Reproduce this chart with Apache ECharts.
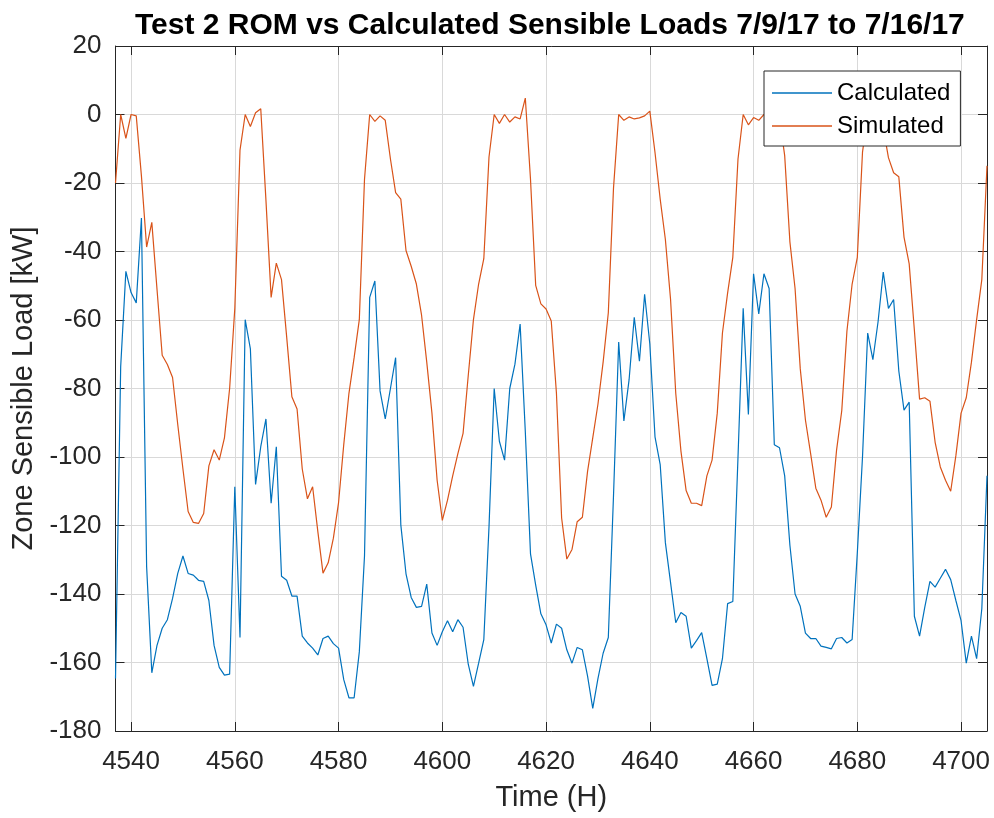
<!DOCTYPE html>
<html><head><meta charset="utf-8">
<script src="https://cdn.jsdelivr.net/npm/echarts@6/dist/echarts.min.js"></script>
<style>html,body{margin:0;padding:0;background:#fff}#c{width:994px;height:818px}</style>
</head><body><div id="c"></div>
<script>
// Hour index of the first sample (one sample per hour)
const startHour = 4537;
const seriesNames = ['Calculated', 'Simulated'];
const titleText = 'Test 2 ROM vs Calculated Sensible Loads 7/9/17 to 7/16/17';
const xAxisName = 'Time (H)';
const yAxisName = 'Zone Sensible Load [kW]';
const xRange = [4537, 4705];
const yRange = [-180, 20];
const yStep = 20;

const calculated = [
  -164.7, -73.6, -45.8, -52, -55, -30.2, -132, -163, -155, -150,
  -147.5, -141.3, -134, -128.9, -134, -134.5, -136, -136.3, -141.9, -155,
  -161.4, -163.7, -163.4, -108.7, -152.7, -59.9, -68.4, -108, -97, -88.9,
  -113.5, -97, -134.8, -136, -140.6, -140.6, -152.3, -154.3, -155.8, -157.8,
  -153, -152.3, -154.5, -155.8, -165, -170.3, -170.3, -156.9, -128.9, -53.4,
  -48.6, -80.7, -88.9, -80, -71, -119.8, -134.1, -141, -143.9, -143.6,
  -137.1, -151.4, -155, -151, -147.8, -151, -147.5, -149.7, -160.5, -167,
  -160.2, -153.3, -120.4, -80, -95.4, -100.9, -80, -72.9, -61.2, -92.6,
  -128.3, -137.4, -145.8, -149, -154.3, -148.8, -150, -156.3, -160.2, -155.6,
  -156.3, -164, -173.4, -164.7, -157.3, -152.7, -111.3, -66.4, -89.5, -77.5,
  -59.2, -72, -52.5, -67, -94.1, -102.2, -125, -136.7, -148.4, -145.4,
  -146.5, -155.8, -153.6, -151.3, -158.9, -166.7, -166.3, -158.9, -142.8, -142.2,
  -100, -56.6, -87.6, -46.5, -58.2, -46.5, -50.8, -96.4, -97.3, -105.5,
  -125.7, -140, -143.6, -151.4, -153, -153, -155.2, -155.6, -156, -153,
  -152.7, -154.3, -153.3, -128, -100, -63.8, -71.6, -60.5, -46, -56.6,
  -54, -74.9, -86.3, -84, -146.5, -152.3, -143.9, -136.3, -138, -135.4,
  -132.8, -135.8, -141.9, -147.8, -160.2, -152.3, -158.9, -144.3, -105.5
];

const simulated = [
  -20, 0, -7, 0, -0.4, -18, -38.7, -31.5, -51, -70.3,
  -73, -76.8, -90.5, -103.5, -115.9, -119.1, -119.4, -116.5, -102.6, -97.9,
  -100.9, -94.4, -80, -56.6, -10.4, 0, -3.5, 0.5, 1.7, -25,
  -53.4, -43.4, -48.2, -65, -82.4, -86, -103.5, -112.2, -108.7, -121.7,
  -133.9, -130.9, -123.7, -113.3, -96.4, -81.4, -71, -59.9, -18.9, 0,
  -2, -0.4, -1.7, -13, -22.8, -24.7, -39.7, -44.3, -49.5, -58.6,
  -72.3, -87.2, -106.8, -118.5, -112.6, -105.5, -99, -93.1, -76.2, -59.9,
  -49.5, -42.1, -12.4, 0, -2.6, 0, -2.2, -0.7, -1.3, 4.8,
  -18.9, -49.9, -55.3, -56.8, -60.3, -81.4, -117.8, -129.8, -127, -118.9,
  -117.6, -104.2, -94.4, -84.6, -72.3, -57.9, -21.5, 0, -1.7, -0.7,
  -1.3, -1, -0.4, 1, -11.1, -24.7, -36.5, -54, -81.4, -98.3,
  -109.8, -113.5, -113.5, -114.2, -105.5, -100.9, -87.2, -63.8, -52.1, -41.7,
  -13, 0, -3, -0.9, -1.7, 0, -1, 0, -1, -12,
  -37.1, -50.8, -74.2, -89.2, -99, -109.1, -112.6, -117.6, -114.6, -98,
  -86.5, -63.2, -49.5, -41.7, -11, 0, -1, 0, -4, -12.6,
  -17, -18.2, -35.8, -43.6, -63, -83.1, -82.7, -83.7, -95.7, -102.9,
  -106.8, -110, -99.6, -87.2, -82.7, -72.3, -59.9, -48.2, -15
];

const toPairs = arr => arr.map((v, i) => [startHour + i, v]);

const FONT = "'Liberation Sans', Arial, Helvetica, sans-serif";
const AX = '#262626';
const GRID = '#d9d9d9';

const chart = echarts.init(document.getElementById('c'), null, {renderer: 'canvas'});
const baseX = {
  type: 'value', min: xRange[0], max: xRange[1], splitNumber: 8,
  axisLine: {show: true, onZero: false, lineStyle: {color: AX, width: 1}},
  axisTick: {show: true, inside: true, length: 9, lineStyle: {color: AX}}
};
const baseY = {
  type: 'value', min: yRange[0], max: yRange[1], interval: yStep,
  axisLine: {show: true, onZero: false, lineStyle: {color: AX, width: 1}},
  axisTick: {show: true, inside: true, length: 9, lineStyle: {color: AX}}
};
chart.setOption({
  animation: false,
  backgroundColor: '#fff',
  title: {
    text: titleText, left: 130, top: 6,
    textStyle: {fontFamily: FONT, fontSize: 30, fontWeight: 'bold', color: '#000'}
  },
  legend: {
    data: seriesNames, orient: 'vertical', left: 764, top: 71, z: 20,
    padding: [10, 10, 8, 8], itemGap: 9, itemWidth: 60, itemHeight: 1.5, icon: 'rect',
    borderColor: AX, borderWidth: 1, backgroundColor: '#fff',
    textStyle: {fontFamily: FONT, fontSize: 24, color: '#000'}
  },
  grid: {left: 115.5, right: 7, top: 46, bottom: 87, containLabel: false},
  xAxis: [
    Object.assign({}, baseX, {
      position: 'bottom', name: xAxisName, nameLocation: 'middle', nameGap: 52,
      nameTextStyle: {fontFamily: FONT, fontSize: 29, color: AX},
      axisLabel: {show: true, margin: 18, fontFamily: FONT, fontSize: 26, color: AX,
        showMinLabel: false, showMaxLabel: false, formatter: v => String(v)},
      splitLine: {show: true, lineStyle: {color: GRID, width: 1}}
    }),
    Object.assign({}, baseX, {
      position: 'top', axisLabel: {show: false}, splitLine: {show: false}
    })
  ],
  yAxis: [
    Object.assign({}, baseY, {
      position: 'left', name: yAxisName, nameLocation: 'middle', nameGap: 58,
      nameTextStyle: {fontFamily: FONT, fontSize: 29, color: AX},
      axisLabel: {show: true, margin: 14, fontFamily: FONT, fontSize: 26, color: AX},
      splitLine: {show: true, lineStyle: {color: GRID, width: 1}}
    }),
    Object.assign({}, baseY, {
      position: 'right', axisLabel: {show: false}, splitLine: {show: false}
    })
  ],
  series: [
    {name: seriesNames[0], type: 'line', data: toPairs(calculated), showSymbol: false, symbol: 'none',
     color: '#0072BD', lineStyle: {color: '#0072BD', width: 1.2}, z: 2},
    {name: seriesNames[1], type: 'line', data: toPairs(simulated), showSymbol: false, symbol: 'none',
     color: '#D95319', lineStyle: {color: '#D95319', width: 1.2}, z: 2}
  ]
});
</script></body></html>
